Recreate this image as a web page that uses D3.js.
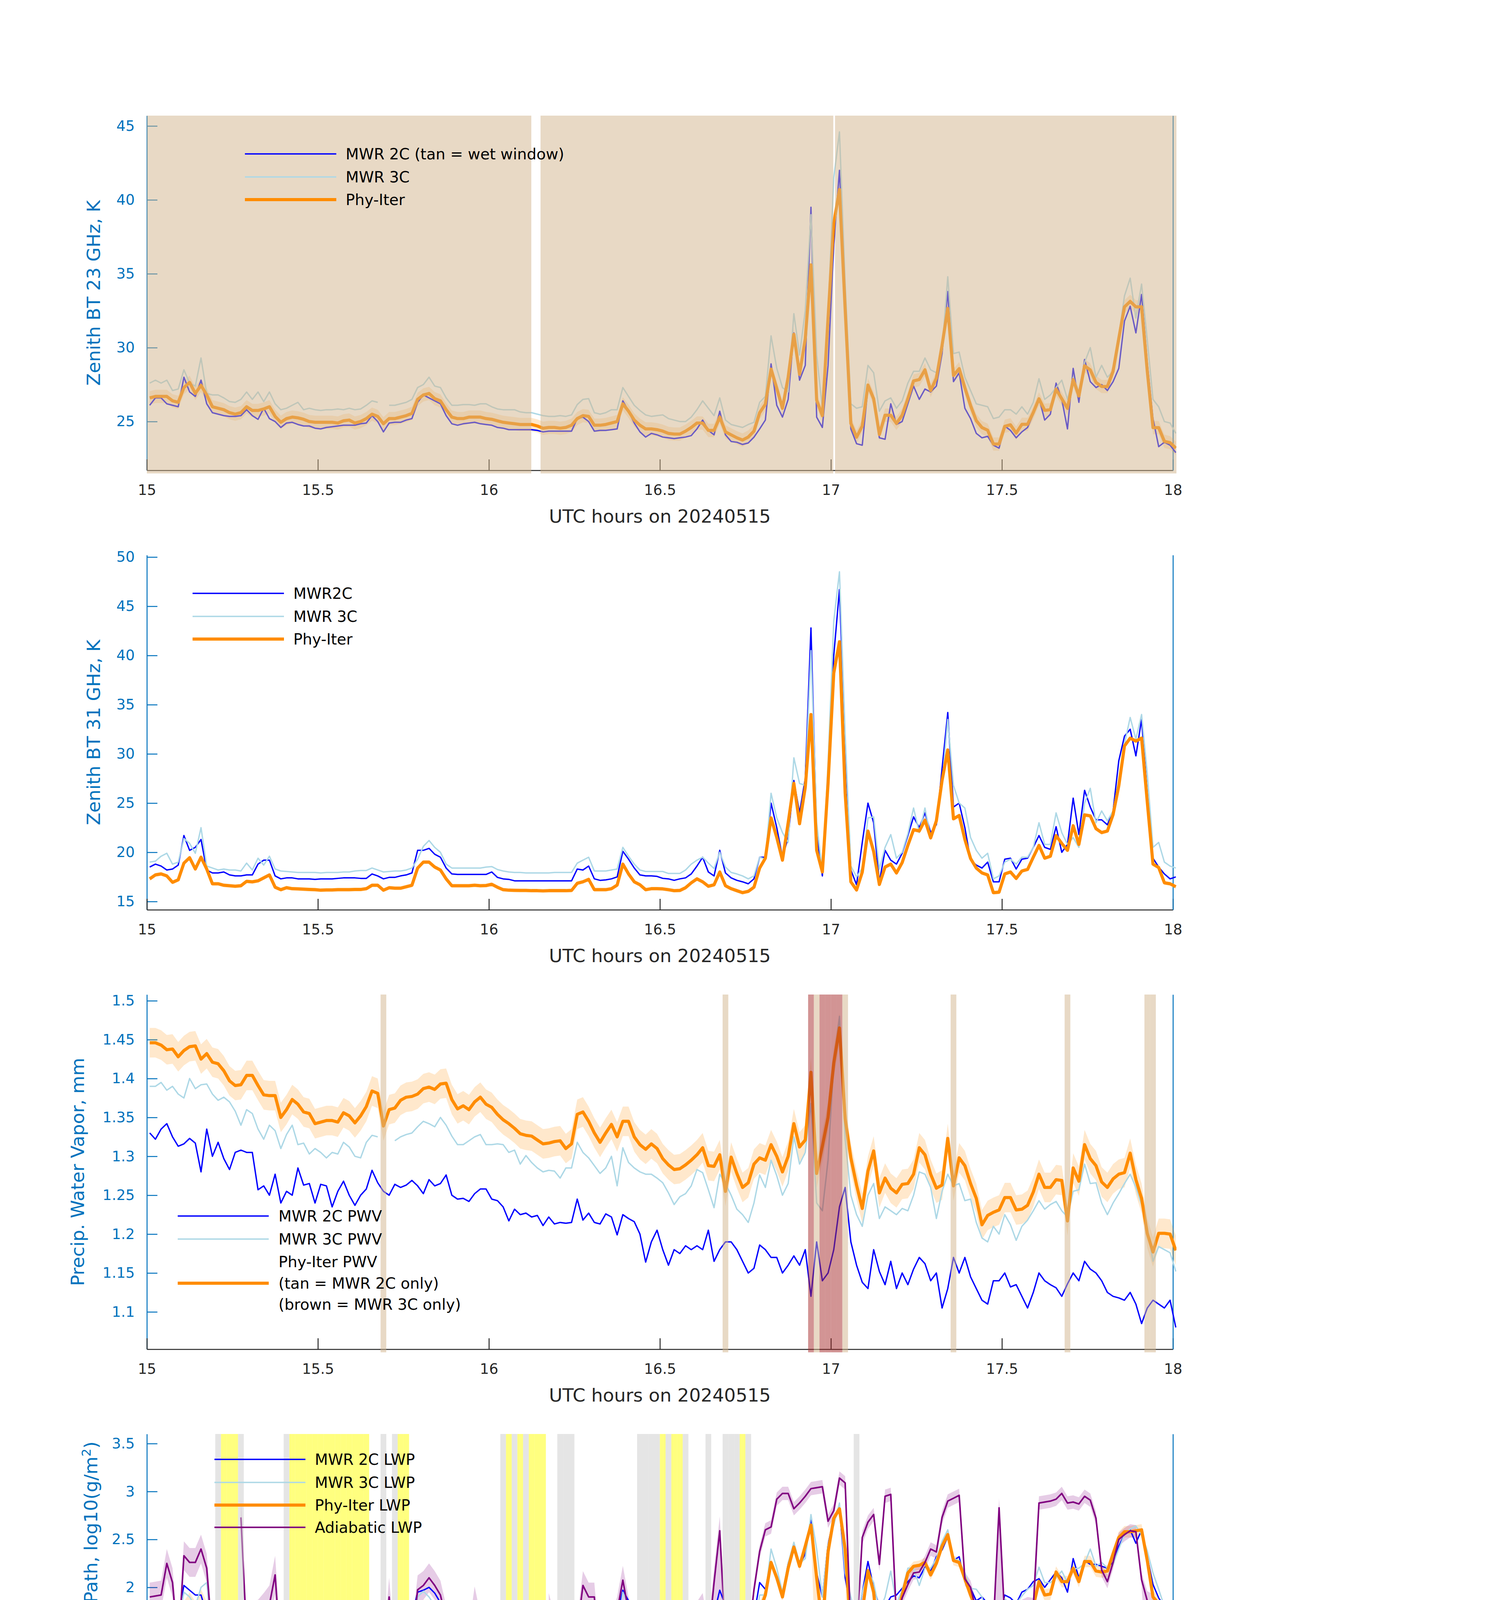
<!DOCTYPE html>
<html><head><meta charset="utf-8">
<script src="https://cdn.jsdelivr.net/npm/d3@7"></script>
<style>body{margin:0;background:#fff}svg{display:block}</style>
</head><body>
<svg id="chart" width="3825" height="6000"></svg>
<script>
// ---------------- DATA (1-minute samples, 15:00:30 .. 18:00:30 UTC) ----------------
const startHour = 15;
const nMinutes = 181;
const xTicks = [15, 15.5, 16, 16.5, 17, 17.5, 18];

// Panel 1: zenith BT 23 GHz (K)
const bt23Ticks = [25, 30, 35, 40, 45];
const bt23Phy = [
26.6,26.7,26.7,26.7,26.4,26.3,27.3,27.65,26.9,27.45,
26.8,26.0,25.9,25.8,25.6,25.5,25.6,26.0,25.75,25.75,
25.85,26.0,25.35,24.95,25.2,25.3,25.25,25.15,25.0,24.95,
24.95,24.95,24.95,24.9,25.05,25.1,24.9,25.0,25.2,25.5,
25.35,24.85,25.2,25.2,25.3,25.4,25.55,26.5,26.8,26.9,
26.55,26.4,25.8,25.3,25.2,25.2,25.3,25.3,25.3,25.2,
25.15,25.05,24.95,24.9,24.85,24.8,24.8,24.8,24.7,24.55,
24.6,24.6,24.55,24.6,24.75,25.2,25.4,25.35,24.75,24.75,
24.8,24.9,25.0,26.2,25.7,25.1,24.75,24.5,24.5,24.45,
24.35,24.2,24.15,24.15,24.35,24.6,24.9,24.9,24.4,24.4,
25.3,24.3,24.1,23.9,23.75,23.95,24.35,25.6,26.17,28.55,
27.25,25.9,28.0,30.9,28.2,30.6,35.6,26.45,25.4,32.0,
38.4,40.7,32.6,24.87,23.94,24.7,27.47,26.54,24.13,25.43,
25.43,24.87,25.43,26.54,27.75,27.84,28.5,27.1,27.93,30.16,
32.66,28.12,28.58,27.28,26.08,25.06,24.59,24.41,23.48,23.48,
24.68,24.78,24.22,24.81,24.81,25.61,26.54,25.76,25.8,27.19,
26.54,25.89,27.84,26.73,28.77,28.49,27.65,27.37,27.37,28.4,
30.62,32.76,33.13,32.76,32.76,28.4,24.59,24.59,23.66,23.57,23.2];
const bt23PhyUnc = 0.45;
const bt23Mwr3c = [
27.6,27.8,27.6,27.8,27.1,27.2,28.5,27.6,27.4,29.3,
26.9,26.8,26.8,26.6,26.35,26.3,26.5,27.0,26.5,27.0,
26.35,27.0,26.2,25.8,25.9,26.1,26.3,25.8,25.9,25.8,
25.75,25.8,25.8,25.85,25.8,25.9,25.8,25.85,26.1,26.4,
26.3,null,26.1,26.1,26.2,26.3,26.5,27.3,27.5,28.0,
27.4,27.3,26.6,26.1,26.1,26.15,26.15,26.1,26.2,26.2,
26.0,25.85,25.8,25.8,25.8,25.65,25.6,25.6,25.5,25.4,
25.35,25.35,25.4,25.35,25.45,26.15,26.5,26.55,25.6,25.5,
25.6,25.8,25.8,27.3,26.7,26.1,25.75,25.45,25.35,25.4,
25.45,25.2,25.1,25.0,25.0,25.3,25.8,26.4,25.9,25.4,
26.6,25.1,24.8,24.7,24.6,24.8,24.95,26.3,26.7,30.8,
28.6,27.3,27.0,32.3,29.5,32.5,39.0,29.5,25.9,32.2,
41.5,44.6,34.3,26.2,25.9,26.0,28.8,28.3,25.7,26.4,
26.6,25.9,26.4,27.6,28.4,28.4,29.3,28.5,28.3,29.8,
34.8,29.6,29.7,28.0,27.1,26.2,26.1,26.0,25.2,25.3,
25.8,25.8,25.5,26.0,25.5,26.3,27.9,26.5,26.8,27.3,
27.8,26.5,28.0,27.0,29.0,30.0,28.0,28.8,28.0,28.4,
30.8,33.5,34.7,32.0,34.3,30.5,26.5,26.0,25.0,24.9,24.2];
const bt23Mwr2c = [
26.1,26.6,26.6,26.2,26.1,26.0,28.0,27.0,26.7,27.8,
26.2,25.6,25.5,25.4,25.35,25.35,25.4,25.8,25.4,25.15,
25.9,25.2,25.0,24.6,24.9,24.95,24.8,24.7,24.7,24.55,
24.5,24.6,24.65,24.7,24.75,24.75,24.75,24.85,24.9,25.4,
25.0,24.3,24.9,24.95,24.95,25.1,25.2,26.3,26.8,26.6,
26.4,26.2,25.4,24.85,24.75,24.85,24.9,24.95,24.85,24.8,
24.75,24.6,24.55,24.45,24.45,24.45,24.45,24.45,24.4,24.3,
24.35,24.35,24.35,24.35,24.35,25.2,25.3,25.0,24.35,24.4,
24.4,24.45,24.5,26.4,25.7,24.9,24.3,23.95,24.2,24.1,
23.95,23.9,23.85,23.9,23.95,24.05,24.5,25.1,24.4,24.1,
25.7,24.1,23.65,23.6,23.45,23.55,23.94,24.5,25.1,28.9,
26.1,25.3,26.5,31.0,27.8,28.8,39.5,25.3,24.6,28.8,
37.0,42.0,33.5,24.5,23.5,23.4,27.3,26.5,23.9,23.8,
26.2,24.8,25.0,26.2,27.4,26.5,27.2,27.0,27.4,29.6,
33.8,27.7,28.3,25.9,25.2,24.2,23.9,24.0,23.4,23.2,
24.7,24.4,23.9,24.3,24.6,25.5,26.6,25.1,25.5,27.6,
26.5,24.5,28.6,26.3,29.2,27.7,27.3,27.5,27.1,27.7,
28.6,31.8,32.8,31.0,33.6,29.0,25.2,23.3,23.6,23.4,22.9];
const wetWindowHours = [[15.0, 16.124], [16.151, 17.007], [17.012, 18.02]];

// Panel 2: zenith BT 31 GHz (K)
const bt31Ticks = [15, 20, 25, 30, 35, 40, 45, 50];
const bt31Phy = [
17.3,17.7,17.8,17.6,16.95,17.2,18.9,19.45,18.3,19.5,
18.3,16.8,16.8,16.65,16.6,16.55,16.6,17.05,17.0,17.1,
17.4,17.7,16.45,16.2,16.4,16.3,16.28,16.25,16.22,16.2,
16.15,16.17,16.17,16.2,16.2,16.2,16.22,16.22,16.3,16.65,
16.65,16.15,16.4,16.35,16.35,16.5,16.65,18.4,19.0,19.0,
18.5,18.2,17.3,16.6,16.6,16.6,16.6,16.65,16.6,16.62,
16.75,16.45,16.2,16.15,16.13,16.12,16.12,16.1,16.1,16.08,
16.1,16.1,16.1,16.1,16.12,16.85,17.0,17.25,16.2,16.2,
16.2,16.3,16.67,18.8,17.8,17.0,16.7,16.2,16.3,16.3,
16.28,16.2,16.1,16.12,16.4,16.9,17.3,17.0,16.55,16.7,
18.0,16.6,16.3,16.1,15.9,16.03,16.45,18.4,19.4,23.5,
21.5,19.2,23.0,27.0,22.9,26.6,34.0,20.2,18.0,27.0,
38.2,41.4,26.0,17.0,16.17,17.98,22.16,20.07,16.73,18.5,
18.8,17.9,18.95,20.7,22.3,22.16,23.27,21.46,23.2,27.3,
30.4,23.4,23.74,21.3,19.37,18.4,17.9,17.7,15.9,15.95,
17.8,18.0,17.34,18.1,18.26,19.5,20.7,19.4,19.6,21.7,
20.9,20.2,22.7,20.8,23.8,23.7,22.4,22.0,22.16,23.83,
26.75,30.8,31.6,31.3,31.6,25.1,18.8,18.45,16.9,16.8,16.5];
const bt31PhyUnc = 0.2;
const bt31Mwr2c = [
18.5,18.8,18.6,18.2,18.3,18.7,21.7,20.2,20.5,21.3,
18.2,17.9,17.9,18.0,17.7,17.6,17.6,17.7,17.7,18.8,
19.2,19.2,17.6,17.3,17.4,17.4,17.3,17.3,17.3,17.25,
17.3,17.3,17.3,17.35,17.4,17.4,17.4,17.35,17.35,17.8,
17.6,17.3,17.45,17.45,17.6,17.7,17.9,20.2,20.2,20.4,
19.8,19.5,18.4,17.8,17.75,17.75,17.75,17.75,17.75,17.75,
18.0,17.45,17.3,17.25,17.1,17.1,17.1,17.1,17.1,17.1,
17.1,17.1,17.1,17.1,17.1,18.3,18.2,18.6,17.3,17.15,
17.2,17.3,17.5,20.1,19.3,18.4,17.7,17.6,17.6,17.55,
17.35,17.3,17.15,17.3,17.4,17.8,18.6,19.5,18.0,17.6,
20.2,17.9,17.4,17.15,17.0,16.8,17.3,19.5,19.5,25.0,
22.5,19.5,21.5,27.3,24.0,27.5,42.8,22.0,17.6,28.0,
40.0,46.7,31.0,18.2,16.7,21.0,25.0,23.0,17.0,20.2,
19.2,18.8,19.9,21.7,23.6,22.5,24.0,22.0,22.8,28.5,
34.2,24.6,25.0,22.5,19.2,18.7,18.4,19.0,17.0,17.0,
19.3,19.4,18.3,19.3,19.4,20.5,21.7,20.5,20.3,22.6,
20.0,20.8,25.5,21.8,26.3,24.6,23.3,23.3,22.8,24.2,
29.3,31.8,32.5,29.8,33.5,26.0,19.4,18.5,17.8,17.3,17.5];
const bt31Mwr3c = [
19.0,19.1,19.6,19.9,18.8,19.0,21.4,20.9,19.9,22.5,
18.6,18.4,18.2,18.3,18.2,18.2,18.1,18.9,18.2,19.4,
18.7,19.6,18.3,18.1,18.05,18.0,17.95,17.95,17.95,17.95,
17.9,17.95,17.95,17.95,18.0,18.0,18.1,18.15,18.15,18.4,
18.2,18.0,18.05,18.1,18.1,18.2,18.4,19.3,20.6,21.2,
20.5,20.0,18.8,18.4,18.4,18.4,18.4,18.4,18.4,18.5,
18.55,18.25,18.1,18.0,17.95,17.95,17.9,17.9,17.9,17.9,
17.9,17.95,17.95,17.95,17.95,18.9,19.2,19.5,18.1,18.1,
18.1,18.2,18.3,20.5,19.6,18.8,18.2,18.05,18.05,18.05,
18.05,17.85,17.85,17.85,18.2,18.8,19.2,19.5,18.9,18.35,
20.0,18.5,17.95,17.8,17.6,17.3,17.6,19.5,19.3,26.0,
23.5,22.0,21.0,29.6,27.0,26.8,40.5,23.0,18.0,29.0,
43.5,48.5,32.0,18.6,17.5,18.4,23.5,23.6,18.3,20.5,
21.8,19.4,20.0,21.9,24.5,22.0,24.5,21.5,23.0,27.0,
33.5,26.8,25.0,24.5,21.5,20.2,19.4,19.9,17.3,17.6,
19.0,19.3,18.8,19.5,19.5,20.5,23.0,20.8,20.8,24.0,
22.0,20.8,21.5,20.5,25.0,26.5,23.0,24.2,23.2,24.2,
27.3,31.0,33.7,31.5,34.0,28.0,20.5,21.0,19.0,18.6,18.4];

// Panel 3: precipitable water vapor (mm)
const pwvTicks = [1.1, 1.15, 1.2, 1.25, 1.3, 1.35, 1.4, 1.45, 1.5];
const pwvPhy = [
1.446,1.446,1.443,1.437,1.438,1.428,1.436,1.441,1.442,1.425,
1.432,1.421,1.419,1.410,1.397,1.391,1.392,1.404,1.404,1.391,
1.379,1.378,1.378,1.350,1.360,1.373,1.367,1.357,1.355,1.342,
1.344,1.346,1.346,1.344,1.356,1.352,1.343,1.352,1.364,1.384,
1.381,1.339,1.360,1.362,1.372,1.376,1.377,1.380,1.387,1.389,
1.386,1.393,1.394,1.373,1.361,1.365,1.360,1.370,1.376,1.367,
1.363,1.354,1.347,1.342,1.336,1.329,1.327,1.326,1.321,1.316,
1.317,1.319,1.320,1.310,1.316,1.354,1.357,1.345,1.330,1.318,
1.330,1.341,1.325,1.345,1.345,1.325,1.315,1.309,1.316,1.310,
1.297,1.289,1.283,1.284,1.289,1.295,1.302,1.311,1.288,1.287,
1.302,1.255,1.299,1.278,1.260,1.266,1.290,1.298,1.295,1.315,
1.300,1.280,1.300,1.342,1.312,1.321,1.408,1.278,1.313,1.350,
1.420,1.465,1.348,1.298,1.263,1.233,1.281,1.307,1.253,1.272,
1.259,1.253,1.264,1.265,1.277,1.311,1.302,1.277,1.259,1.263,
1.323,1.262,1.298,1.288,1.265,1.246,1.212,1.224,1.228,1.231,
1.247,1.247,1.231,1.232,1.237,1.254,1.277,1.260,1.260,1.270,
1.269,1.217,1.285,1.268,1.315,1.297,1.288,1.267,1.260,1.271,
1.277,1.279,1.304,1.270,1.246,1.201,1.177,1.201,1.201,1.200,1.179];
const pwvPhyUnc = 0.019;
const pwvMwr3c = [
1.390,1.390,1.395,1.385,1.390,1.380,1.375,1.400,1.387,1.392,
1.393,1.380,1.372,1.376,1.370,1.358,1.340,1.360,1.355,1.335,
1.322,1.340,1.333,1.310,1.328,1.340,1.315,1.317,1.303,1.310,
1.305,1.298,1.305,1.303,1.318,1.312,1.300,1.298,1.318,1.327,
1.325,null,null,1.320,1.325,1.328,1.330,1.338,1.345,1.342,
1.338,1.350,1.340,1.326,1.315,1.315,1.320,1.325,1.328,1.315,
1.315,1.316,1.315,1.305,1.308,1.290,1.301,1.292,1.285,1.280,
1.282,1.281,1.272,1.285,1.285,1.318,1.305,1.298,1.288,1.278,
1.285,1.300,1.262,1.311,1.292,1.285,1.280,1.277,1.277,1.272,
1.266,1.253,1.238,1.248,1.252,1.262,1.283,1.279,1.257,1.234,
1.277,1.265,1.250,1.232,1.225,1.215,1.240,1.276,1.260,1.295,
1.275,1.250,1.265,1.325,1.290,1.305,1.368,1.240,1.230,1.295,
1.420,1.480,1.322,1.250,1.225,1.210,1.250,1.265,1.220,1.235,
1.230,1.225,1.233,1.230,1.250,1.280,1.277,1.260,1.220,1.255,
1.277,1.262,1.265,1.243,1.245,1.215,1.195,1.190,1.210,1.200,
1.225,1.212,1.192,1.210,1.218,1.230,1.243,1.232,1.238,1.242,
1.230,1.222,1.255,1.257,1.290,1.265,1.266,1.240,1.225,1.240,
1.252,1.265,1.277,1.260,1.238,1.208,1.165,1.184,1.180,1.176,1.152];
const pwvMwr2c = [
1.330,1.322,1.335,1.342,1.325,1.313,1.316,1.323,1.317,1.280,
1.335,1.300,1.318,1.297,1.283,1.305,1.308,1.305,1.305,1.257,
1.262,1.250,1.277,1.240,1.255,1.250,1.285,1.263,1.265,1.240,
1.264,1.262,1.235,1.255,1.268,1.250,1.237,1.250,1.258,1.282,
1.266,1.255,1.250,1.264,1.260,1.263,1.269,1.262,1.252,1.270,
1.262,1.265,1.276,1.250,1.245,1.246,1.242,1.252,1.258,1.258,
1.245,1.243,1.235,1.217,1.232,1.225,1.227,1.222,1.224,1.211,
1.222,1.213,1.215,1.214,1.215,1.245,1.218,1.227,1.215,1.213,
1.226,1.222,1.199,1.225,1.220,1.216,1.200,1.164,1.190,1.205,
1.180,1.160,1.180,1.175,1.185,1.180,1.185,1.180,1.205,1.165,
1.180,1.190,1.190,1.180,1.165,1.150,1.156,1.186,1.180,1.170,
1.170,1.150,1.160,1.172,1.160,1.180,1.120,1.190,1.140,1.150,
1.180,1.235,1.260,1.190,1.160,1.138,1.130,1.180,1.152,1.135,
1.165,1.130,1.150,1.135,1.155,1.170,1.162,1.140,1.150,1.105,
1.130,1.170,1.150,1.170,1.145,1.130,1.115,1.110,1.140,1.140,
1.150,1.132,1.135,1.120,1.105,1.125,1.150,1.140,1.135,1.131,
1.120,1.136,1.150,1.140,1.165,1.155,1.150,1.140,1.125,1.120,
1.118,1.115,1.125,1.110,1.085,1.105,1.115,1.110,1.105,1.115,1.080];
const pwvTanMinutes = [41, 101, 117, 122, 141, 161, 175, 176];
const pwvBrownMinutes = [116, 118, 119, 120, 121];

// Panel 4: log10 liquid water path
const lwpTicks = [0, 0.5, 1, 1.5, 2, 2.5, 3, 3.5];
const lwpMwr2c = [
1.70,1.69,1.77,1.80,1.66,1.70,2.02,1.97,1.92,1.92,
1.72,1.68,1.64,1.63,1.63,1.62,1.61,1.68,1.78,1.80,
1.82,1.86,1.62,1.60,1.65,1.62,1.60,1.60,1.62,1.62,
1.63,1.62,1.63,1.64,1.64,1.65,1.64,1.63,1.66,1.72,
1.67,1.66,1.63,1.63,1.64,1.67,1.70,1.95,1.97,2.00,
1.94,1.84,1.68,1.67,1.69,1.67,1.68,1.69,1.67,1.69,
1.69,1.73,1.63,1.62,1.62,1.63,1.61,1.62,1.60,1.62,
1.61,1.64,1.65,1.63,1.60,1.75,1.69,1.72,1.63,1.61,
1.63,1.67,1.72,1.97,1.86,1.77,1.67,1.63,1.66,1.67,
1.69,1.67,1.65,1.65,1.64,1.69,1.80,1.79,1.78,1.72,
1.97,1.81,1.65,1.63,1.63,1.60,1.70,2.05,1.98,2.26,
2.12,1.92,2.25,2.45,2.23,2.35,2.72,2.15,1.90,2.45,
2.72,2.85,2.10,1.78,1.57,1.95,2.27,2.00,1.80,1.80,
1.90,1.92,1.99,2.06,2.12,2.10,2.21,2.17,2.32,2.39,
2.53,2.28,2.32,2.06,1.99,1.86,1.90,1.83,1.63,1.66,
1.92,1.89,1.83,1.95,1.98,2.06,2.09,2.00,2.08,2.16,
2.10,1.95,2.30,2.10,2.28,2.24,2.24,2.22,2.20,2.26,
2.43,2.55,2.60,2.46,2.60,2.32,2.03,1.89,1.80,1.75,1.77];
const lwpMwr3c = [
1.60,1.63,1.62,1.68,1.65,1.61,1.95,1.90,1.80,2.00,
2.05,1.53,1.46,1.45,1.43,1.44,1.43,1.45,1.57,1.65,
1.60,1.58,1.53,1.46,1.49,1.43,1.44,1.44,1.43,1.44,
1.43,1.44,1.44,1.42,1.44,1.43,1.44,1.45,1.44,1.50,
1.55,1.46,1.46,1.46,1.45,1.46,1.50,1.90,1.96,1.90,
1.81,1.75,1.53,1.52,1.50,1.52,1.51,1.51,1.51,1.49,
1.48,1.46,1.46,1.44,1.45,1.44,1.45,1.44,1.45,1.43,
1.45,1.46,1.47,1.48,1.50,1.62,1.58,1.55,1.51,1.49,
1.50,1.49,1.52,1.95,1.80,1.64,1.53,1.48,1.47,1.47,
1.49,1.46,1.44,1.44,1.47,1.53,1.58,1.66,1.60,1.53,
1.80,1.62,1.48,1.46,1.45,1.50,1.55,1.92,1.92,2.40,
2.20,1.95,2.25,2.47,2.25,2.30,2.76,2.40,1.90,2.45,
2.65,2.88,2.15,1.90,1.64,1.95,2.17,2.05,1.75,1.90,
2.17,1.83,1.97,2.20,2.20,2.02,2.20,2.20,2.30,2.48,
2.60,2.30,2.28,2.15,1.99,1.98,1.90,1.66,1.58,1.50,
1.88,1.83,1.83,1.91,1.98,2.02,2.21,2.05,2.05,2.10,
2.17,2.05,2.19,2.20,2.25,2.40,2.22,2.26,2.20,2.24,
2.40,2.55,2.61,2.64,2.55,2.38,2.15,1.98,1.80,1.80,1.75];
const lwpPhy = [
1.00,1.30,1.33,1.12,0.45,0.95,1.69,1.79,1.52,1.83,
1.63,-1,null,null,null,null,-1,0.84,0.73,1.00,
1.12,1.42,-1,null,null,null,null,null,null,null,
null,null,null,null,null,null,null,null,null,null,
null,null,null,null,null,null,0.92,1.69,1.77,1.77,
1.66,1.56,-1,null,null,null,null,null,null,-1,
0.57,-1,null,null,null,null,null,null,null,null,
null,null,null,null,-1,0.80,0.98,1.27,-1,null,
null,-1,0.94,1.70,1.55,1.30,0.95,-1,0.05,0.26,
null,-0.03,null,null,-1,0.97,1.40,1.12,0.81,1.20,
1.59,1.12,-1,null,null,0.21,0.82,1.76,1.92,2.26,
2.10,1.90,2.20,2.42,2.22,2.43,2.65,2.10,1.60,2.37,
2.72,2.82,2.40,1.55,0.73,1.75,2.175,1.95,1.30,1.78,
1.83,1.69,1.92,2.15,2.22,2.23,2.26,2.13,2.25,2.43,
2.55,2.28,2.26,2.09,1.92,1.78,1.75,1.69,0.64,0.76,
1.69,1.75,1.60,1.77,1.80,1.80,2.06,1.92,1.93,2.16,
2.06,2.06,2.20,2.06,2.27,2.27,2.17,2.16,2.17,2.35,
2.52,2.58,2.58,2.59,2.60,2.28,1.90,1.83,1.48,1.45,1.43];
const lwpPhyHi = [
1.50,1.52,1.55,1.50,1.45,1.55,1.85,1.95,1.85,1.98,
1.85,1.40,null,null,null,null,1.35,1.35,1.35,1.38,
1.45,1.60,1.40,1.35,1.35,null,null,null,null,null,
null,null,null,null,null,null,null,null,null,1.30,
1.32,1.30,1.35,1.30,1.30,1.32,1.35,1.80,1.87,1.87,
1.80,1.70,1.45,1.32,1.30,1.28,1.25,1.28,1.30,1.28,
1.30,1.30,1.28,null,null,null,null,null,null,null,
1.18,1.18,1.18,1.18,1.20,1.20,1.30,1.45,1.28,1.22,
1.25,1.35,1.50,1.80,1.75,1.55,1.30,1.25,1.22,1.30,
null,null,null,null,null,1.25,1.55,1.40,1.30,1.50,
1.75,1.50,1.45,1.40,1.40,1.10,1.40,1.85,1.98,2.30,
2.15,1.96,2.25,2.46,2.27,2.47,2.69,2.16,1.70,2.42,
2.76,2.86,2.45,1.65,1.20,1.82,2.22,2.00,1.40,1.83,
1.88,1.75,1.97,2.20,2.27,2.28,2.31,2.18,2.30,2.48,
2.60,2.33,2.31,2.15,1.98,1.84,1.81,1.75,1.20,1.20,
1.75,1.80,1.66,1.83,1.86,1.86,2.12,1.98,1.99,2.22,
2.12,2.12,2.26,2.12,2.33,2.33,2.23,2.22,2.23,2.41,
2.58,2.64,2.64,2.65,2.66,2.35,1.97,1.90,1.58,1.55,1.55];
const lwpPhyLo = [
0.90,1.00,0.95,-1,-1,-1,1.00,1.10,1.00,1.10,
-1,-1,null,null,null,null,-1,-1,-1,-1,
-1,-1,-1,-1,-1,null,null,null,null,null,
null,null,null,null,null,null,null,null,null,-1,
-1,-1,-1,-1,-1,-1,-1,-1,-1,-1,
-1,-1,-1,-1,-1,-1,-1,-1,-1,-1,
-1,-1,-1,null,null,null,null,null,null,null,
-1,-1,-1,-1,-1,-1,-1,-1,-1,-1,
-1,-1,-1,-1,-1,-1,-1,-1,-1,-1,
null,null,null,null,null,-1,-1,-1,-1,-1,
-1,-1,-1,-1,-1,-1,-1,1.60,1.85,2.20,
2.05,1.84,2.14,2.37,2.17,2.38,2.60,0.80,0.80,2.30,
2.68,2.78,2.30,-1,-1,1.65,2.12,1.85,0.06,1.70,
1.78,1.60,1.85,2.10,2.17,2.18,2.21,2.08,2.20,2.38,
2.50,2.23,2.21,2.03,1.86,1.72,1.69,1.60,-1,-1,
1.60,1.70,1.54,1.71,1.74,1.74,2.00,1.86,1.87,2.10,
2.00,2.00,2.14,2.00,2.21,2.21,2.11,2.10,2.11,2.29,
2.46,2.52,2.52,2.53,2.54,2.20,1.80,1.70,1.15,1.05,1.10];
const lwpAdiabatic = [
1.90,1.91,1.92,2.25,2.05,1.37,2.33,2.26,2.26,2.40,
2.20,1.45,1.13,null,null,null,2.73,1.50,1.66,1.67,
1.74,1.82,2.13,1.27,1.13,null,null,null,null,null,
null,null,null,null,null,null,null,null,null,1.19,
1.43,1.20,1.90,1.19,null,null,1.43,1.975,2.02,2.10,
2.02,1.92,1.66,1.43,1.19,1.62,1.43,1.86,1.57,1.19,
1.57,1.57,1.19,null,1.19,null,1.19,null,null,null,
1.79,1.57,1.19,1.19,1.19,1.55,2.02,1.90,1.90,1.19,
1.38,1.57,1.75,2.075,1.75,1.57,1.37,1.12,1.12,1.13,
null,1.19,null,null,1.12,1.49,1.70,1.79,1.45,2.05,
2.59,1.47,1.45,1.19,null,1.45,1.975,2.375,2.60,2.63,
2.92,2.98,2.98,2.82,2.88,2.95,3.03,3.04,3.05,2.69,
2.80,3.14,3.09,1.55,1.46,2.52,2.68,2.76,2.24,2.95,
2.97,1.67,1.89,2.03,2.15,2.16,2.26,2.40,2.37,2.73,
2.90,2.93,2.96,2.09,2.00,1.75,1.75,1.60,1.60,2.83,
1.67,1.69,1.59,1.77,1.80,1.79,2.88,2.89,2.90,2.92,
2.98,2.88,2.89,2.87,2.95,2.91,2.72,2.18,2.06,2.26,
2.50,2.55,2.59,2.58,2.08,1.86,1.83,1.74,1.59,1.44,1.56];
const lwpAdiabaticUnc = [
0.15,0.15,0.15,0.15,0.15,0.15,0.15,0.15,0.15,0.15,
0.15,0.15,0.15,null,null,null,0.2,0.2,0.2,0.2,
0.2,0.2,0.2,0.2,0.2,null,null,null,null,null,
null,null,null,null,null,null,null,null,null,0.2,
0.2,0.2,0.2,0.2,null,null,0.15,0.15,0.15,0.15,
0.15,0.15,0.15,0.15,0.15,0.15,0.15,0.15,0.15,0.15,
0.15,0.15,0.15,null,null,null,null,null,null,null,
0.15,0.15,0.15,0.15,0.15,0.15,0.15,0.15,0.15,0.15,
0.15,0.15,0.15,0.15,0.15,0.15,0.15,0.15,0.15,0.15,
null,null,null,null,0.15,0.15,0.15,0.15,0.15,0.15,
0.15,0.15,0.15,0.15,null,0.07,0.07,0.07,0.07,0.07,
0.07,0.07,0.07,0.07,0.07,0.07,0.07,0.07,0.07,0.07,
0.07,0.07,0.07,0.07,0.07,0.07,0.07,0.07,0.07,0.07,
0.07,0.07,0.07,0.07,0.07,0.07,0.07,0.07,0.07,0.07,
0.07,0.07,0.07,0.07,0.07,0.1,0.1,0.1,0.1,0.1,
0.1,0.1,0.1,0.1,0.1,0.1,0.07,0.07,0.07,0.07,
0.07,0.07,0.07,0.07,0.07,0.07,0.07,0.07,0.07,0.07,
0.07,0.07,0.07,0.07,0.07,0.1,0.1,0.1,0.1,0.1,0.1];
const lwpAdiabaticLoExt = [
null,null,null,null,null,null,null,null,null,null,
null,0.5,0.5,null,null,null,null,null,null,null,
null,null,null,0.9,0.6,null,null,null,null,null,
null,null,null,null,null,null,null,null,null,0.6,
0.6,0.6,0.6,0.6,null,null,null,null,null,null,
null,null,null,0.6,0.6,0.6,0.6,0.6,0.6,0.6,
0.6,0.6,0.6,null,null,null,null,null,null,null,
0.57,0.57,0.57,0.57,0.57,0.57,0.57,0.57,0.57,0.57,
0.57,0.57,0.57,0.57,0.57,0.57,0.57,0.57,0.57,0.57,
null,null,null,null,0.55,0.55,0.55,0.55,0.55,0.55,
0.57,0.57,0.57,0.57,null,null,null,null,null,null,
null,null,null,null,null,null,null,null,null,null,
null,null,null,null,null,null,null,null,null,null,
null,null,null,null,null,null,null,null,null,null,
null,null,null,null,null,1.3,1.3,1.3,1.3,1.3,
1.3,1.3,1.3,1.3,1.3,1.3,null,null,null,null,
null,null,null,null,null,null,null,null,null,null,
null,null,null,null,null,1.05,1.05,1.05,1.05,1.05,1.05];

// Panel 5: MWR Phy-Iter data-quality flag
const dqTicks = [0, 2, 4, 6, 8, 10];
const dqFlag = [
0,0,0,0,0,0,0,0,0,0,
0,0,4,5,5,5,3,0,0,0,
0,0,0,0,4,5,5,5,5,5,
5,5,5,5,5,5,5,5,5,0,
0,4,0,4,5,5,0,0,0,0,
0,0,0,0,0,0,0,0,0,0,
0,0,4,5,4,5,4,5,5,5,
0,0,4,4,4,0,0,0,0,0,
0,0,0,0,0,0,4,4,4,4,
5,4,5,5,4,0,0,0,4,0,
0,4,4,4,5,4,0,0,0,0,
0,0,0,0,6,0,0,0,0,0,
0,0,0,0,4,0,0,0,0,0,
0,0,0,0,0,0,0,0,0,0,
0,0,0,0,0,0,0,0,0,0,
0,0,0,0,0,0,0,0,0,0,
0,0,0,0,0,0,0,0,0,0,
0,0,0,0,0,0,0,0,0,0,0];

// ---------------- DRAWING ----------------
const times = d3.range(nMinutes).map(k => startHour + (k + 0.5) / 60);
const svg = d3.select("#chart");
svg.append("rect").attr("width", 3825).attr("height", 6000).attr("fill", "#ffffff");

const FONT = "DejaVu Sans";
const AXBLUE = "#0072BD", AXDARK = "#262626";
const C2C = "#0000FF", C3C = "#ADD8E6", CPHY = "#FF8C00", CADIA = "#800080";
const X0 = 376, X1 = 3003, PH = 908;
const x = d3.scaleLinear().domain([15, 18]).range([X0, X1]);
const defs = svg.append("defs");

function panel(idx, top, yDomain, yTicks, labelX, labelBuilder) {
  const y = d3.scaleLinear().domain(yDomain).range([top + PH, top]);
  defs.append("clipPath").attr("id", "clip" + idx).append("rect")
    .attr("x", X0).attr("y", top).attr("width", X1 - X0 + 9).attr("height", PH + 8);
  const g = svg.append("g");
  const axes = g.append("g");
  const yAx = axes.append("g").attr("transform", `translate(${X0},0)`)
    .call(d3.axisLeft(y).tickValues(yTicks).tickFormat(d => String(d)).tickSize(-27).tickSizeOuter(0).tickPadding(31));
  yAx.selectAll("path,line").attr("stroke", AXBLUE).attr("stroke-width", 2.5);
  yAx.selectAll("text").attr("fill", AXBLUE).attr("font-size", 37).attr("font-family", FONT);
  const xAx = axes.append("g").attr("transform", `translate(0,${top + PH})`)
    .call(d3.axisBottom(x).tickValues(xTicks).tickFormat(d => String(d)).tickSize(-28).tickSizeOuter(0).tickPadding(37));
  xAx.selectAll("path,line").attr("stroke", AXDARK).attr("stroke-width", 2.5);
  xAx.selectAll("text").attr("fill", AXDARK).attr("font-size", 37).attr("font-family", FONT);
  const rAx = axes.append("g").attr("transform", `translate(${X1},0)`)
    .call(d3.axisRight(y).tickValues([]).tickSizeOuter(0));
  rAx.selectAll("path").attr("stroke", AXBLUE).attr("stroke-width", 2.5);
  svg.append("text").attr("x", (X0 + X1) / 2).attr("y", top + PH + 134)
    .attr("text-anchor", "middle").attr("font-family", FONT).attr("font-size", 47)
    .attr("fill", AXDARK).text("UTC hours on 20240515");
  const yl = svg.append("text").attr("transform", `translate(${labelX},${top + PH / 2}) rotate(-90)`)
    .attr("text-anchor", "middle").attr("font-family", FONT).attr("font-size", 47).attr("fill", AXBLUE);
  labelBuilder(yl);
  const data = g.append("g").attr("clip-path", `url(#clip${idx})`);
  const over = g.append("g").attr("clip-path", `url(#clip${idx})`);
  const leg = g.append("g");
  return { y, data, over, leg, top };
}

function pts(arr) { return arr.map((v, k) => ({ t: times[k], v })); }
function drawLine(P, arr, color, width) {
  const line = d3.line().defined(d => d.v != null).x(d => x(d.t)).y(d => P.y(d.v));
  P.data.append("path").datum(pts(arr)).attr("d", line).attr("fill", "none")
    .attr("stroke", color).attr("stroke-width", width).attr("stroke-linejoin", "round");
}
function drawBand(P, lo, hi, color, op) {
  const dat = lo.map((l, k) => ({ t: times[k], lo: l, hi: hi[k] }));
  const area = d3.area().defined(d => d.lo != null && d.hi != null)
    .x(d => x(d.t)).y0(d => P.y(d.lo)).y1(d => P.y(d.hi));
  P.data.append("path").datum(dat).attr("d", area).attr("fill", color).attr("fill-opacity", op).attr("stroke", "none");
}
function drawIsolated(P, arr, color) {
  const iso = arr.map((v, k) => ({ t: times[k], v, k }))
    .filter(d => d.v != null && (d.k === 0 || arr[d.k - 1] == null) && (d.k === arr.length - 1 || arr[d.k + 1] == null));
  const s = 11;
  P.data.selectAll(null).data(iso).enter().append("path")
    .attr("d", d => { const cx = x(d.t), cy = P.y(d.v); return `M${cx - s},${cy - s}L${cx + s},${cy + s}M${cx - s},${cy + s}L${cx + s},${cy - s}`; })
    .attr("stroke", color).attr("stroke-width", 6).attr("fill", "none");
}
function shadeHours(P, a, b, color) {
  P.over.append("rect").attr("x", x(a)).attr("width", x(b) - x(a))
    .attr("y", P.top).attr("height", PH + 8).attr("fill", color).attr("fill-opacity", 0.5);
}
function shadeMinute(P, k, color) { shadeHours(P, startHour + k / 60, startHour + (k + 1) / 60, color); }
function legend(P, x0, x1, tx, entries) {
  entries.forEach(e => {
    if (e.color) P.leg.append("line").attr("x1", x0).attr("x2", x1).attr("y1", P.top + e.lineY).attr("y2", P.top + e.lineY)
      .attr("stroke", e.color).attr("stroke-width", e.width);
    e.texts.forEach(tt => P.leg.append("text").attr("x", tx).attr("y", P.top + tt[1]).attr("dy", "0.35em")
      .attr("font-family", FONT).attr("font-size", 39).attr("fill", "#000").text(tt[0]));
  });
}
function simpleLabel(txt) { return t => t.text(txt); }

// ---- Panel 1
const P1 = panel(1, 296, [21.7, 45.7], bt23Ticks, 256, simpleLabel("Zenith BT 23 GHz, K"));
drawBand(P1, bt23Phy.map(v => v - bt23PhyUnc), bt23Phy.map(v => v + bt23PhyUnc), CPHY, 0.2);
drawLine(P1, bt23Mwr2c, C2C, 3.5);
drawLine(P1, bt23Mwr3c, C3C, 3.5);
drawLine(P1, bt23Phy, CPHY, 8);
wetWindowHours.forEach(w => shadeHours(P1, w[0], w[1], "#D2B48C"));
legend(P1, 627, 861, 885, [
  { color: C2C, width: 3.5, lineY: 98, texts: [["MWR 2C (tan = wet window)", 98]] },
  { color: C3C, width: 3.5, lineY: 157, texts: [["MWR 3C", 157]] },
  { color: CPHY, width: 8, lineY: 215, texts: [["Phy-Iter", 215]] }]);

// ---- Panel 2
const P2 = panel(2, 1421, [14.16, 50.2], bt31Ticks, 256, simpleLabel("Zenith BT 31 GHz, K"));
drawBand(P2, bt31Phy.map(v => v - bt31PhyUnc), bt31Phy.map(v => v + bt31PhyUnc), CPHY, 0.2);
drawLine(P2, bt31Mwr2c, C2C, 3.5);
drawLine(P2, bt31Mwr3c, C3C, 3.5);
drawLine(P2, bt31Phy, CPHY, 8);
legend(P2, 493, 727, 751, [
  { color: C2C, width: 3.5, lineY: 98, texts: [["MWR2C", 98]] },
  { color: C3C, width: 3.5, lineY: 157, texts: [["MWR 3C", 157]] },
  { color: CPHY, width: 8, lineY: 215, texts: [["Phy-Iter", 215]] }]);

// ---- Panel 3
const P3 = panel(3, 2546, [1.052, 1.508], pwvTicks, 215, simpleLabel("Precip. Water Vapor, mm"));
drawBand(P3, pwvPhy.map(v => v - pwvPhyUnc), pwvPhy.map(v => v + pwvPhyUnc), CPHY, 0.2);
drawLine(P3, pwvMwr2c, C2C, 3.5);
drawLine(P3, pwvMwr3c, C3C, 3.5);
drawLine(P3, pwvPhy, CPHY, 8);
pwvTanMinutes.forEach(k => shadeMinute(P3, k, "#D2B48C"));
pwvBrownMinutes.forEach(k => shadeMinute(P3, k, "#A52A2A"));
legend(P3, 455, 688, 713, [
  { color: C2C, width: 3.5, lineY: 567, texts: [["MWR 2C PWV", 567]] },
  { color: C3C, width: 3.5, lineY: 626, texts: [["MWR 3C PWV", 626]] },
  { color: CPHY, width: 8, lineY: 739, texts: [["Phy-Iter PWV", 684], ["(tan = MWR 2C only)", 739], ["(brown = MWR 3C only)", 793]] }]);

// ---- Panel 4
const P4 = panel(4, 3671, [-0.1, 3.6], lwpTicks, 249, t => {
  t.append("tspan").text("log10 Liquid Water Path, log10(g/m");
  t.append("tspan").attr("font-size", 32).attr("dy", -17).text("2");
  t.append("tspan").attr("dy", 17).text(")");
});
drawBand(P4, lwpPhyLo, lwpPhyHi, CPHY, 0.2);
drawBand(P4,
  lwpAdiabatic.map((v, k) => (v == null || lwpAdiabaticUnc[k] == null) ? null : (lwpAdiabaticLoExt[k] != null ? lwpAdiabaticLoExt[k] : v - lwpAdiabaticUnc[k])),
  lwpAdiabatic.map((v, k) => (v == null || lwpAdiabaticUnc[k] == null) ? null : v + lwpAdiabaticUnc[k]),
  CADIA, 0.2);
drawLine(P4, lwpMwr2c, C2C, 3.5);
drawLine(P4, lwpMwr3c, C3C, 3.5);
drawLine(P4, lwpPhy, CPHY, 8);
drawLine(P4, lwpAdiabatic, CADIA, 4);
drawIsolated(P4, lwpAdiabatic, CADIA);
drawIsolated(P4, lwpPhy, CPHY);
dqFlag.forEach((f, k) => {
  if (f === 3 || f === 4) shadeMinute(P4, k, "#CCCCCC");
  else if (f === 5) shadeMinute(P4, k, "#FFFF00");
});
legend(P4, 549, 782, 806, [
  { color: C2C, width: 3.5, lineY: 65, texts: [["MWR 2C LWP", 65]] },
  { color: C3C, width: 3.5, lineY: 124, texts: [["MWR 3C LWP", 124]] },
  { color: CPHY, width: 8, lineY: 182, texts: [["Phy-Iter LWP", 182]] },
  { color: CADIA, width: 4, lineY: 239, texts: [["Adiabatic LWP", 239]] }]);

// ---- Panel 5
const P5 = panel(5, 4796, [-0.5, 11.5], dqTicks, 256, simpleLabel("MWR Phy Iter DQ Flag"));
P5.data.selectAll(null).data(dqFlag.map((f, k) => ({ t: times[k], v: f }))).enter().append("circle")
  .attr("cx", d => x(d.t)).attr("cy", d => P5.y(d.v)).attr("r", 3.5).attr("fill", CPHY);
</script>
</body></html>
